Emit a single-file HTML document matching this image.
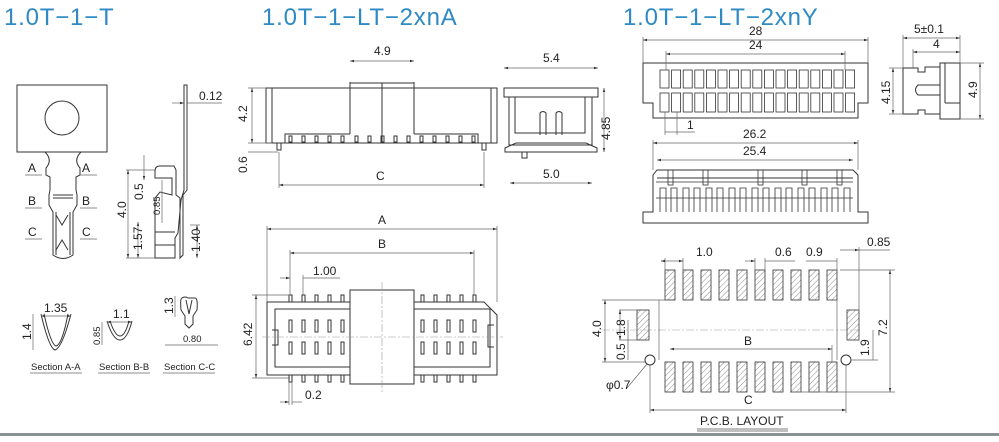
<!DOCTYPE html>
<html><head><meta charset="utf-8"><style>
html,body{margin:0;padding:0;background:#fff;}
svg{display:block;}
text{font-family:"Liberation Sans",sans-serif;fill:#222;}
.t{font-size:24px;fill:#2e8ac4;font-weight:300;letter-spacing:0.8px;}
.d{font-size:12px;}
.s{font-size:9.5px;}
.o{fill:none;stroke:#333;stroke-width:1;}
.g{fill:none;stroke:#666;stroke-width:0.7;}
.c{fill:none;stroke:#999;stroke-width:0.6;stroke-dasharray:8 2 2 2;}
</style></head><body>
<svg width="999" height="442" viewBox="0 0 999 442" xmlns="http://www.w3.org/2000/svg">
<defs>
<marker id="a" viewBox="0 0 10 10" refX="10" refY="5" markerWidth="6" markerHeight="6" orient="auto-start-reverse"><path d="M0,2 L10,5 L0,8 z" fill="#333"/></marker>
<pattern id="h" width="4" height="4" patternUnits="userSpaceOnUse" patternTransform="rotate(45)"><line x1="0" y1="0" x2="0" y2="4" stroke="#555" stroke-width="0.7"/></pattern>
</defs>
<text class="t" x="4" y="25">1.0T−1−T</text>
<text class="t" x="262" y="25">1.0T−1−LT−2xnA</text>
<text class="t" x="623" y="25">1.0T−1−LT−2xnY</text>

<!-- terminal front -->
<rect class="o" x="17" y="85" width="90" height="67"/>
<circle class="o" cx="62" cy="118" r="17"/>
<path class="o" d="M45,152 Q53,160 46,168 L46,175 L50,177 L50,190 L49,195 L49,205 L53,212 L53,255 Q63,262 73,255 L73,212 L77,205 L77,195 L76,190 L76,177 L80,175 L80,168 Q73,160 81,152"/>
<line class="o" x1="53" y1="195" x2="73" y2="195"/><line class="o" x1="53" y1="198" x2="73" y2="198"/>
<path class="o" d="M56,215 L62,225 L68,215 M56,250 L62,240 L68,250 M56,212 L56,255 M70,212 L70,255"/>
<text class="d" x="28" y="172">A</text><line class="g" x1="25" y1="175" x2="42" y2="175"/>
<text class="d" x="28" y="205">B</text><line class="g" x1="25" y1="208" x2="42" y2="208"/>
<text class="d" x="28" y="236">C</text><line class="g" x1="25" y1="239" x2="42" y2="239"/>
<text class="d" x="82" y="172">A</text><line class="g" x1="80" y1="175" x2="97" y2="175"/>
<text class="d" x="82" y="205">B</text><line class="g" x1="80" y1="208" x2="97" y2="208"/>
<text class="d" x="82" y="236">C</text><line class="g" x1="80" y1="239" x2="97" y2="239"/>

<!-- terminal side -->
<path class="o" d="M184,85 L187,85 L187,190 L183,195 L183,255 L180,258 L180,198 L176,195 L176,170 L174,166 L160,166 Q155,166 155,171 L155,178 L172,178 L172,195 L160,192 L155,198 L155,258 L175,258 L175,238 L178,233 L181,200 L184,190 Z"/>
<line class="o" x1="155" y1="232" x2="175" y2="232"/><line class="o" x1="155" y1="245" x2="175" y2="245"/>
<line class="g" x1="172" y1="103" x2="184" y2="103" marker-end="url(#a)"/><line class="g" x1="187" y1="103" x2="222" y2="103"/>
<text class="d" x="199" y="100">0.12</text>
<line class="g" x1="126" y1="170" x2="155" y2="170"/><line class="g" x1="126" y1="258" x2="155" y2="258"/>
<line class="g" x1="128" y1="170" x2="128" y2="258" marker-start="url(#a)" marker-end="url(#a)"/>
<text class="d" transform="translate(126,218) rotate(-90)">4.0</text>
<line class="g" x1="144" y1="155" x2="144" y2="180" marker-end="url(#a)"/>
<text class="d" transform="translate(143,200) rotate(-90)">0.5</text>
<line class="g" x1="162" y1="180" x2="162" y2="223"/>
<text class="s" transform="translate(160,215) rotate(-90)">0.85</text>
<line class="g" x1="138" y1="222" x2="138" y2="258" marker-start="url(#a)" marker-end="url(#a)"/>
<text class="d" transform="translate(142,250) rotate(-90)">1.57</text>
<line class="g" x1="190" y1="225" x2="200" y2="225"/>
<line class="g" x1="197" y1="225" x2="197" y2="258" marker-start="url(#a)" marker-end="url(#a)"/>
<text class="d" transform="translate(200,252) rotate(-90)">1.40</text>

<!-- sections -->
<path class="o" d="M41,314 Q49,348 55,350 Q62,348 71,314 M44,314 Q51,345 56,346 Q62,345 68,314"/>
<line class="g" x1="41" y1="316" x2="71" y2="316" marker-start="url(#a)" marker-end="url(#a)"/>
<text class="d" x="44" y="312">1.35</text>
<line class="g" x1="33" y1="314" x2="33" y2="350"/><text class="d" transform="translate(31,340) rotate(-90)">1.4</text>
<path class="o" d="M107,321 Q113,340 120,340 Q127,340 132,321 M110,321 Q115,336 120,336 Q125,336 129,321"/>
<line class="g" x1="107" y1="322" x2="132" y2="322" marker-start="url(#a)" marker-end="url(#a)"/>
<text class="d" x="113" y="318">1.1</text>
<line class="g" x1="102" y1="322" x2="102" y2="345"/><text class="s" transform="translate(100,345) rotate(-90)">0.85</text>
<path class="o" d="M182,298 Q185,296 188,298 L195,298 Q198,298 197,310 L193,316 L193,324 L189,328 L185,324 L185,316 L181,310 Q180,298 182,298 Z M186,300 L189,314 L192,300"/>
<line class="g" x1="175" y1="296" x2="175" y2="317"/><text class="d" transform="translate(173,314) rotate(-90)">1.3</text>
<line class="g" x1="165" y1="345" x2="218" y2="345"/><text class="s" x="183" y="342">0.80</text>
<text class="s" x="31" y="370">Section A-A</text><line class="g" x1="30" y1="373" x2="82" y2="373"/>
<text class="s" x="99" y="370">Section B-B</text><line class="g" x1="98" y1="373" x2="150" y2="373"/>
<text class="s" x="164" y="370">Section C-C</text><line class="g" x1="163" y1="373" x2="215" y2="373"/>

<!-- middle top front -->
<rect class="o" x="266" y="88" width="231" height="55"/>
<line class="o" x1="272" y1="88" x2="272" y2="143"/><line class="o" x1="491" y1="88" x2="491" y2="143"/>
<path class="o" d="M285,143 L285,134 L350,134 M414,134 L478,134 L478,143"/>
<line class="o" x1="350" y1="82" x2="350" y2="134"/><line class="o" x1="414" y1="82" x2="414" y2="134"/>
<line class="o" x1="350" y1="83" x2="414" y2="83"/><line class="o" x1="382" y1="83" x2="382" y2="143"/>
<g class="o">
<rect x="289" y="136" width="3" height="6"/><rect x="302" y="136" width="3" height="6"/><rect x="315" y="136" width="3" height="6"/><rect x="328" y="136" width="3" height="6"/><rect x="341" y="136" width="3" height="6"/><rect x="355" y="136" width="3" height="6"/><rect x="368" y="136" width="3" height="6"/><rect x="381" y="136" width="3" height="6"/><rect x="394" y="136" width="3" height="6"/><rect x="407" y="136" width="3" height="6"/><rect x="420" y="136" width="3" height="6"/><rect x="433" y="136" width="3" height="6"/><rect x="446" y="136" width="3" height="6"/><rect x="459" y="136" width="3" height="6"/><rect x="472" y="136" width="3" height="6"/>
<rect x="277" y="143" width="4" height="7"/><rect x="482" y="143" width="4" height="7"/>
</g>
<line class="g" x1="350" y1="61" x2="414" y2="61" marker-start="url(#a)" marker-end="url(#a)"/>
<text class="d" x="374" y="55">4.9</text>
<line class="g" x1="252" y1="88" x2="252" y2="143" marker-start="url(#a)" marker-end="url(#a)"/>
<line class="g" x1="248" y1="88" x2="266" y2="88"/><line class="g" x1="248" y1="143" x2="272" y2="143"/><line class="g" x1="248" y1="152" x2="278" y2="152"/>
<text class="d" transform="translate(247,122) rotate(-90)">4.2</text>
<text class="d" transform="translate(247,173) rotate(-90)">0.6</text>
<line class="g" x1="279" y1="185" x2="484" y2="185" marker-start="url(#a)" marker-end="url(#a)"/>
<line class="g" x1="279" y1="152" x2="279" y2="188"/><line class="g" x1="484" y1="152" x2="484" y2="188"/>
<text class="d" x="376" y="180">C</text>

<!-- middle top side -->
<rect class="o" x="504" y="88" width="94" height="9"/>
<path class="o" d="M509,97 L509,145 L592,145 L592,97"/>
<path class="o" d="M515,97 L515,133 L585,133 L585,97"/>
<path class="o" d="M540,135 L540,113 Q543,110 546,113 L546,135 M556,135 L556,113 Q559,110 562,113 L562,135"/>
<path class="o" d="M505,148 L516,143 L586,143 L597,148 L597,152 L505,152 Z"/>
<rect class="o" x="522" y="152" width="5" height="6"/>
<line class="g" x1="504" y1="68" x2="598" y2="68" marker-start="url(#a)" marker-end="url(#a)"/>
<text class="d" x="543" y="62">5.4</text>
<line class="g" x1="604" y1="88" x2="604" y2="152" marker-start="url(#a)" marker-end="url(#a)"/>
<text class="d" transform="translate(610,140) rotate(-90)">4.85</text>
<line class="g" x1="510" y1="183" x2="592" y2="183" marker-start="url(#a)" marker-end="url(#a)"/>
<text class="d" x="543" y="178">5.0</text>

<!-- mating top view -->
<path class="o" d="M267,302 L484,302 L497,315 L497,375 L267,375 Z"/>
<rect class="o" x="275" y="309" width="215" height="58"/>
<path class="o" d="M272,330 L278,330 L278,345 L272,345 M494,325 L488,325 L488,347 L494,347"/>
<g class="o">
<rect x="289" y="320" width="3" height="12"/><rect x="302" y="320" width="3" height="12"/><rect x="315" y="320" width="3" height="12"/><rect x="328" y="320" width="3" height="12"/><rect x="341" y="320" width="3" height="12"/>
<rect x="421" y="320" width="3" height="12"/><rect x="434" y="320" width="3" height="12"/><rect x="447" y="320" width="3" height="12"/><rect x="460" y="320" width="3" height="12"/><rect x="473" y="320" width="3" height="12"/>
<rect x="289" y="342" width="3" height="12"/><rect x="302" y="342" width="3" height="12"/><rect x="315" y="342" width="3" height="12"/><rect x="328" y="342" width="3" height="12"/><rect x="341" y="342" width="3" height="12"/>
<rect x="421" y="342" width="3" height="12"/><rect x="434" y="342" width="3" height="12"/><rect x="447" y="342" width="3" height="12"/><rect x="460" y="342" width="3" height="12"/><rect x="473" y="342" width="3" height="12"/>
<rect x="289" y="295" width="3" height="7"/><rect x="302" y="295" width="3" height="7"/><rect x="315" y="295" width="3" height="7"/><rect x="328" y="295" width="3" height="7"/><rect x="341" y="295" width="3" height="7"/>
<rect x="421" y="295" width="3" height="7"/><rect x="434" y="295" width="3" height="7"/><rect x="447" y="295" width="3" height="7"/><rect x="460" y="295" width="3" height="7"/><rect x="473" y="295" width="3" height="7"/>
<rect x="289" y="375" width="3" height="7"/><rect x="302" y="375" width="3" height="7"/><rect x="315" y="375" width="3" height="7"/><rect x="328" y="375" width="3" height="7"/><rect x="341" y="375" width="3" height="7"/>
<rect x="421" y="375" width="3" height="7"/><rect x="434" y="375" width="3" height="7"/><rect x="447" y="375" width="3" height="7"/><rect x="460" y="375" width="3" height="7"/><rect x="473" y="375" width="3" height="7"/>
</g>
<rect x="350" y="290" width="64" height="94" fill="#fff" stroke="#333"/>
<line class="c" x1="262" y1="337" x2="503" y2="337"/><line class="c" x1="382" y1="282" x2="382" y2="392"/>
<line class="g" x1="267" y1="229" x2="497" y2="229" marker-start="url(#a)" marker-end="url(#a)"/>
<line class="g" x1="267" y1="226" x2="267" y2="302"/><line class="g" x1="497" y1="226" x2="497" y2="302"/>
<text class="d" x="378" y="224">A</text>
<line class="g" x1="290" y1="253" x2="474" y2="253" marker-start="url(#a)" marker-end="url(#a)"/>
<line class="g" x1="290" y1="250" x2="290" y2="295"/><line class="g" x1="474" y1="250" x2="474" y2="295"/>
<text class="d" x="378" y="248">B</text>
<line class="g" x1="280" y1="278" x2="290" y2="278" marker-end="url(#a)"/><line class="g" x1="303" y1="278" x2="340" y2="278"/>
<line class="g" x1="303" y1="275" x2="303" y2="295"/>
<text class="d" x="313" y="275">1.00</text>
<line class="g" x1="256" y1="295" x2="256" y2="378" marker-start="url(#a)" marker-end="url(#a)"/>
<line class="g" x1="252" y1="295" x2="290" y2="295"/><line class="g" x1="252" y1="378" x2="290" y2="378"/>
<text class="d" transform="translate(252,346) rotate(-90)">6.42</text>
<line class="g" x1="289" y1="382" x2="289" y2="405"/><line class="g" x1="292" y1="382" x2="292" y2="405"/>
<line class="g" x1="280" y1="402" x2="289" y2="402" marker-end="url(#a)"/><line class="g" x1="292" y1="402" x2="302" y2="402"/>
<text class="d" x="305" y="399">0.2</text>

<!-- right top -->
<path class="o" d="M643,63 L868,63 L868,103 L858,103 L858,118 L653,118 L653,103 L643,103 Z"/>
<g stroke="#333" stroke-width="0.8" fill="#fff">
<rect x="660" y="70" width="9" height="18"/><rect x="671.6" y="70" width="9" height="18"/><rect x="683.2" y="70" width="9" height="18"/><rect x="694.8" y="70" width="9" height="18"/><rect x="706.4" y="70" width="9" height="18"/><rect x="718" y="70" width="9" height="18"/><rect x="729.6" y="70" width="9" height="18"/><rect x="741.2" y="70" width="9" height="18"/><rect x="752.8" y="70" width="9" height="18"/><rect x="764.4" y="70" width="9" height="18"/><rect x="776" y="70" width="9" height="18"/><rect x="787.6" y="70" width="9" height="18"/><rect x="799.2" y="70" width="9" height="18"/><rect x="810.8" y="70" width="9" height="18"/><rect x="822.4" y="70" width="9" height="18"/><rect x="834" y="70" width="9" height="18"/><rect x="845.6" y="70" width="9" height="18"/>
<rect x="660" y="93" width="9" height="19"/><rect x="671.6" y="93" width="9" height="19"/><rect x="683.2" y="93" width="9" height="19"/><rect x="694.8" y="93" width="9" height="19"/><rect x="706.4" y="93" width="9" height="19"/><rect x="718" y="93" width="9" height="19"/><rect x="729.6" y="93" width="9" height="19"/><rect x="741.2" y="93" width="9" height="19"/><rect x="752.8" y="93" width="9" height="19"/><rect x="764.4" y="93" width="9" height="19"/><rect x="776" y="93" width="9" height="19"/><rect x="787.6" y="93" width="9" height="19"/><rect x="799.2" y="93" width="9" height="19"/><rect x="810.8" y="93" width="9" height="19"/><rect x="822.4" y="93" width="9" height="19"/><rect x="834" y="93" width="9" height="19"/><rect x="845.6" y="93" width="9" height="19"/>
</g>
<line class="g" x1="643" y1="40" x2="868" y2="40" marker-start="url(#a)" marker-end="url(#a)"/>
<line class="g" x1="643" y1="37" x2="643" y2="63"/><line class="g" x1="868" y1="37" x2="868" y2="63"/>
<text class="d" x="749" y="35">28</text>
<line class="g" x1="666" y1="54" x2="845" y2="54" marker-start="url(#a)" marker-end="url(#a)"/>
<line class="g" x1="666" y1="51" x2="666" y2="70"/><line class="g" x1="845" y1="51" x2="845" y2="70"/>
<text class="d" x="749" y="49">24</text>
<line class="g" x1="665" y1="112" x2="665" y2="135"/><line class="g" x1="677" y1="112" x2="677" y2="135"/>
<line class="g" x1="665" y1="132" x2="695" y2="132"/>
<text class="d" x="687" y="129">1</text>
<!-- side small -->
<path class="o" d="M903,68 L918,68 L918,72 L925,72 L925,67 L940,67 L940,63 L960,63 L960,119 L940,119 L940,114 L925,114 L925,110 L918,110 L918,114 L903,114 Z"/>
<line class="o" x1="940" y1="67" x2="940" y2="114"/><line class="o" x1="945" y1="63" x2="945" y2="103"/><line class="o" x1="945" y1="103" x2="960" y2="103"/>
<path class="o" d="M940,85 L918,85 Q913,90 918,95 L940,95"/>
<line class="g" x1="903" y1="38" x2="960" y2="38" marker-start="url(#a)" marker-end="url(#a)"/>
<line class="g" x1="903" y1="35" x2="903" y2="68"/><line class="g" x1="960" y1="35" x2="960" y2="63"/>
<text class="d" x="914" y="33">5±0.1</text>
<line class="g" x1="913" y1="52" x2="960" y2="52" marker-start="url(#a)" marker-end="url(#a)"/>
<line class="g" x1="913" y1="49" x2="913" y2="68"/>
<text class="d" x="933" y="48">4</text>
<line class="g" x1="893" y1="68" x2="893" y2="114" marker-start="url(#a)" marker-end="url(#a)"/>
<line class="g" x1="889" y1="68" x2="903" y2="68"/><line class="g" x1="889" y1="114" x2="903" y2="114"/>
<text class="d" transform="translate(890,104) rotate(-90)">4.15</text>
<line class="g" x1="980" y1="63" x2="980" y2="119" marker-start="url(#a)" marker-end="url(#a)"/>
<line class="g" x1="960" y1="63" x2="984" y2="63"/><line class="g" x1="960" y1="119" x2="984" y2="119"/>
<text class="d" transform="translate(977,98) rotate(-90)">4.9</text>

<!-- right middle -->
<path class="o" d="M643,223 L868,223 L868,212 L858,212 L858,175 L853,170 L657,170 L653,175 L653,212 L643,212 Z"/>
<line class="o" x1="657" y1="178" x2="853" y2="178"/>
<g stroke="#333" stroke-width="0.8" fill="none">
<path d="M660,212 L660,188 L666,188 L666,212 M671,212 L671,188 L677,188 L677,212 M683,212 L683,188 L689,188 L689,212 M694,212 L694,188 L700,188 L700,212 M706,212 L706,188 L712,188 L712,212 M717,212 L717,188 L723,188 L723,212 M729,212 L729,188 L735,188 L735,212 M740,212 L740,188 L746,188 L746,212 M752,212 L752,188 L758,188 L758,212 M763,212 L763,188 L769,188 L769,212 M775,212 L775,188 L781,188 L781,212 M786,212 L786,188 L792,188 L792,212 M798,212 L798,188 L804,188 L804,212 M809,212 L809,188 L815,188 L815,212 M821,212 L821,188 L827,188 L827,212 M832,212 L832,188 L838,188 L838,212 M844,212 L844,188 L850,188 L850,212"/>
<path d="M656,198 L853,198 M656,182 L853,182"/>
<rect x="668" y="170" width="5" height="15"/><rect x="703" y="170" width="5" height="15"/><rect x="758" y="170" width="5" height="15"/><rect x="802" y="170" width="5" height="15"/><rect x="837" y="170" width="5" height="15"/>
</g>
<line class="g" x1="653" y1="143" x2="858" y2="143" marker-start="url(#a)" marker-end="url(#a)"/>
<line class="g" x1="653" y1="140" x2="653" y2="170"/><line class="g" x1="858" y1="140" x2="858" y2="170"/>
<text class="d" x="743" y="138">26.2</text>
<line class="g" x1="657" y1="160" x2="853" y2="160" marker-start="url(#a)" marker-end="url(#a)"/>
<text class="d" x="743" y="155">25.4</text>

<!-- PCB -->
<g stroke="#333" stroke-width="0.8" fill="url(#h)">
<rect x="665" y="270" width="10" height="30"/><rect x="683" y="270" width="10" height="30"/><rect x="701" y="270" width="10" height="30"/><rect x="719" y="270" width="10" height="30"/><rect x="737" y="270" width="10" height="30"/><rect x="755" y="270" width="10" height="30"/><rect x="773" y="270" width="10" height="30"/><rect x="791" y="270" width="10" height="30"/><rect x="809" y="270" width="10" height="30"/><rect x="827" y="270" width="10" height="30"/>
<rect x="665" y="362" width="10" height="30"/><rect x="683" y="362" width="10" height="30"/><rect x="701" y="362" width="10" height="30"/><rect x="719" y="362" width="10" height="30"/><rect x="737" y="362" width="10" height="30"/><rect x="755" y="362" width="10" height="30"/><rect x="773" y="362" width="10" height="30"/><rect x="791" y="362" width="10" height="30"/><rect x="809" y="362" width="10" height="30"/><rect x="827" y="362" width="10" height="30"/>
<rect x="637" y="310" width="12" height="30"/><rect x="847" y="310" width="12" height="30"/>
</g>
<circle class="o" cx="650" cy="360" r="5"/><circle class="o" cx="846" cy="360" r="5"/>
<line class="c" x1="602" y1="330" x2="860" y2="330"/>
<line class="g" x1="659" y1="300" x2="659" y2="360"/><line class="g" x1="837" y1="300" x2="837" y2="360"/>
<line class="g" x1="602" y1="300" x2="665" y2="300"/><line class="g" x1="602" y1="362" x2="645" y2="362"/>
<line class="g" x1="605" y1="300" x2="605" y2="362" marker-start="url(#a)" marker-end="url(#a)"/>
<text class="d" transform="translate(601,337) rotate(-90)">4.0</text>
<line class="g" x1="619" y1="310" x2="637" y2="310"/><line class="g" x1="619" y1="340" x2="637" y2="340"/>
<line class="g" x1="620" y1="310" x2="620" y2="340" marker-start="url(#a)" marker-end="url(#a)"/>
<text class="d" transform="translate(625,336) rotate(-90)">1.8</text>
<line class="g" x1="628" y1="320" x2="628" y2="360"/>
<text class="d" transform="translate(625,360) rotate(-90)">0.5</text>
<line class="g" x1="661" y1="261" x2="665" y2="261"/><line class="g" x1="665" y1="258" x2="665" y2="270"/><line class="g" x1="683" y1="258" x2="683" y2="270"/>
<line class="g" x1="661" y1="261" x2="683" y2="261" marker-start="url(#a)" marker-end="url(#a)"/>
<text class="d" x="696" y="256">1.0</text>
<line class="g" x1="755" y1="258" x2="755" y2="270"/><line class="g" x1="765" y1="258" x2="765" y2="270"/>
<line class="g" x1="745" y1="261" x2="755" y2="261" marker-end="url(#a)"/><line class="g" x1="765" y1="261" x2="795" y2="261"/>
<text class="d" x="775" y="256">0.6</text>
<line class="g" x1="806" y1="261" x2="837" y2="261"/><line class="g" x1="837" y1="258" x2="837" y2="270"/>
<text class="d" x="806" y="256">0.9</text>
<line class="g" x1="840" y1="250" x2="859" y2="250" marker-end="url(#a)"/><line class="g" x1="859" y1="247" x2="859" y2="310"/>
<line class="g" x1="859" y1="250" x2="890" y2="250"/>
<text class="d" x="867" y="246">0.85</text>
<line class="g" x1="840" y1="270" x2="895" y2="270"/><line class="g" x1="790" y1="392" x2="895" y2="392"/>
<line class="g" x1="890" y1="270" x2="890" y2="392" marker-start="url(#a)" marker-end="url(#a)"/>
<text class="d" transform="translate(887,336) rotate(-90)">7.2</text>
<line class="g" x1="852" y1="360" x2="878" y2="360"/>
<line class="g" x1="873" y1="330" x2="873" y2="360"/>
<text class="d" transform="translate(869,356) rotate(-90)">1.9</text>
<line class="g" x1="670" y1="349" x2="832" y2="349" marker-start="url(#a)" marker-end="url(#a)"/>
<line class="g" x1="832" y1="345" x2="832" y2="362"/>
<text class="d" x="744" y="345">B</text>
<line class="g" x1="650" y1="365" x2="650" y2="413"/><line class="g" x1="846" y1="365" x2="846" y2="413"/>
<line class="g" x1="650" y1="410" x2="846" y2="410" marker-start="url(#a)" marker-end="url(#a)"/>
<text class="d" x="744" y="404">C</text>
<line class="g" x1="627" y1="388" x2="647" y2="364"/>
<text class="d" x="606" y="389">φ0.7</text>
<text class="d" x="700" y="425">P.C.B. LAYOUT</text>
<line x1="697" y1="429" x2="788" y2="429" stroke="#555" stroke-width="0.8"/><line x1="697" y1="431" x2="788" y2="431" stroke="#555" stroke-width="0.8"/>

<rect x="0" y="433" width="999" height="3" fill="#8a9296"/>
</svg>
</body></html>
